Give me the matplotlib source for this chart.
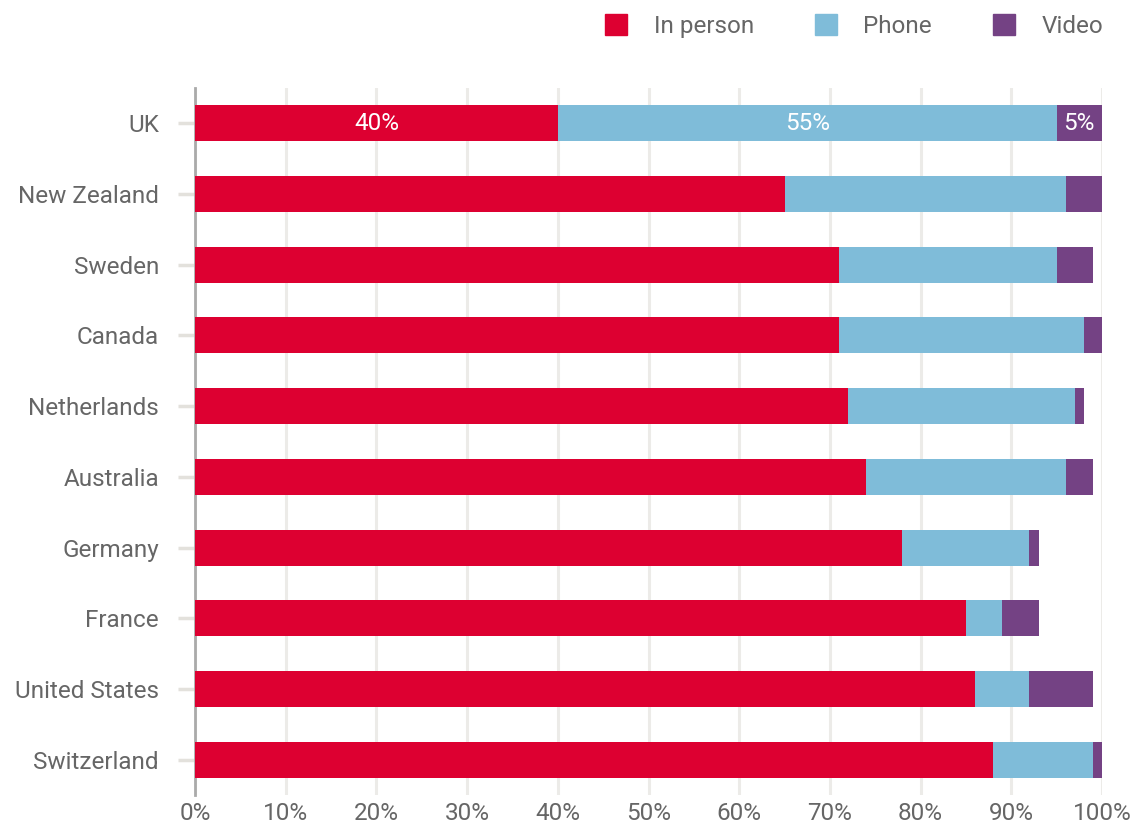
import numpy as np
import matplotlib
matplotlib.use('Agg')
from matplotlib import pyplot as plt
from matplotlib.patches import Patch

plt.rcParams['font.family'] = ['Roboto', 'DejaVu Sans']

countries = ['UK', 'New Zealand', 'Sweden', 'Canada', 'Netherlands', 'Australia',
             'Germany', 'France', 'United States', 'Switzerland']
in_person = [40, 65, 71, 71, 72, 74, 78, 85, 86, 88]
phone = [55, 31, 24, 27, 25, 22, 14, 4, 6, 11]
video = [5, 4, 4, 2, 1, 3, 1, 4, 7, 1]
series_names = ['In person', 'Phone', 'Video']
colors = ['#dd0031', '#7fbcd9', '#744284']
txt = '#666666'

fig = plt.figure(figsize=(11.41, 8.32), dpi=100)
ax = fig.add_axes([195 / 1141, 37 / 832, 907 / 1141, 707 / 832])

y = np.arange(len(countries))
left = np.zeros(len(countries))
for vals, c, name in zip([in_person, phone, video], colors, series_names):
    ax.barh(y, vals, left=left, height=0.51, color=c, label=name, zorder=3)
    left = left + np.array(vals)

# labels on the UK bar only
start = 0
for v in [in_person[0], phone[0], video[0]]:
    ax.text(start + v / 2, 0, f'{v}%', ha='center', va='center', color='white',
            fontsize=17.5, zorder=4)
    start += v

ax.set_xlim(0, 100)
ax.set_ylim(len(countries) - 0.5, -0.5)
ax.set_xticks(np.arange(0, 101, 10))
ax.set_xticklabels([f'{t}%' for t in range(0, 101, 10)])
ax.set_yticks(y)
ax.set_yticklabels(countries)
ax.grid(axis='x', color='#ecebe8', linewidth=2.2, zorder=0)
for s in ['top', 'right', 'bottom']:
    ax.spines[s].set_visible(False)
ax.spines['left'].set_color('#aaaaaa')
ax.spines['left'].set_linewidth(2)
ax.tick_params(axis='y', length=12, width=2.5, color='#e3e1dc', pad=14,
               labelsize=17.5, labelcolor=txt, direction='out')
ax.tick_params(axis='x', length=0, pad=5, labelsize=17.5, labelcolor=txt)

handles = [Patch(color=c) for c in colors]
fig.legend(handles, series_names, loc='upper right', bbox_to_anchor=(1103 / 1141, 1 - 14 / 832),
           ncol=3, frameon=False, fontsize=17.5, labelcolor=txt, borderpad=0,
           borderaxespad=0, handlelength=0.9, handleheight=0.95, columnspacing=2.5,
           handletextpad=1.1)

plt.savefig('out.png', dpi=100)
